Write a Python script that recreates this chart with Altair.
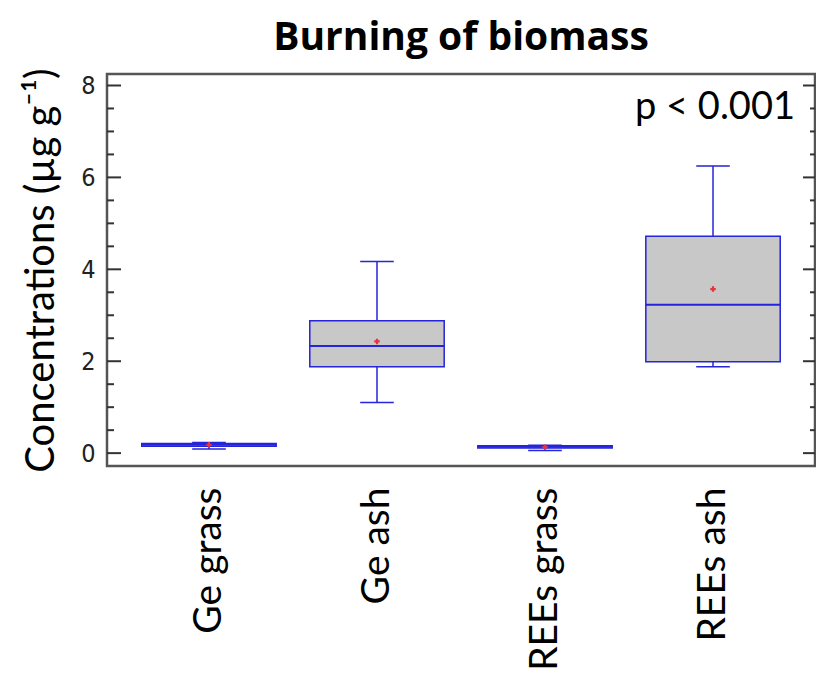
import altair as alt
import pandas as pd

categories = ["Ge grass", "Ge ash", "REEs grass", "REEs ash"]
mins = [0.09, 1.10, 0.06, 1.88]
q1s = [0.15, 1.88, 0.11, 1.99]
medians = [0.18, 2.33, 0.14, 3.23]
q3s = [0.21, 2.88, 0.16, 4.72]
maxs = [0.23, 4.17, 0.17, 6.25]
means = [0.18, 2.43, 0.13, 3.57]

major_ticks = [0, 2, 4, 6, 8]
minor_ticks = [0.5, 1, 1.5, 2.5, 3, 3.5, 4.5, 5, 5.5, 6.5, 7, 7.5]

df = pd.DataFrame({"cat": categories, "min": mins, "q1": q1s, "median": medians,
                   "q3": q3s, "max": maxs, "mean": means})
maj = pd.DataFrame({"v": major_ticks})
mnr = pd.DataFrame({"v": minor_ticks})

BLUE = "#2424d8"
W, H = 708, 392
FONT = "Lato"
YTITLE = "Concentrations (µg g⁻¹)"

yscale = alt.Scale(domain=[-0.28, 8.25], nice=False, zero=False)
xscale = alt.Scale(paddingInner=0, paddingOuter=0.107)

yaxis = alt.Axis(values=major_ticks, ticks=False, tickSize=0, domain=False, grid=False,
                 labelFont="Liberation Sans Narrow, DejaVu Sans Condensed, Liberation Sans",
                 labelFontSize=25, labelColor="#222", labelPadding=12, titleFont=FONT,
                 titleFontSize=40, titleFontWeight="normal", titleColor="black",
                 titlePadding=19)
xaxis = alt.Axis(labelAngle=-90, labelAlign="right", labelBaseline="middle",
                 ticks=False, tickSize=0, domain=False, grid=False, labelFont=FONT,
                 labelFontSize=39, labelColor="black", labelPadding=21, labelLimit=400)


def X():
    return alt.X("cat:N", sort=categories, scale=xscale, axis=xaxis, title=None)


def Y(field):
    return alt.Y(field, scale=yscale, axis=yaxis, title=YTITLE)


base = alt.Chart(df)

whisk = base.mark_rule(color=BLUE, strokeWidth=1.5).encode(
    x=X(), y=Y("min:Q"), y2="max:Q")
box = base.mark_bar(fill="#c8c8c8", stroke=BLUE, strokeWidth=1.5,
                    width=alt.RelativeBandSize(0.8)).encode(
    x=X(), y=Y("q1:Q"), y2="q3:Q")
med = base.mark_bar(stroke=BLUE, strokeWidth=2, fill=BLUE,
                    width=alt.RelativeBandSize(0.8)).encode(
    x=X(), y=Y("median:Q"), y2="median:Q")
capmin = base.mark_bar(stroke=BLUE, strokeWidth=1.5, fill=BLUE,
                       width=alt.RelativeBandSize(0.2)).encode(
    x=X(), y=Y("min:Q"), y2="min:Q")
capmax = base.mark_bar(stroke=BLUE, strokeWidth=1.5, fill=BLUE,
                       width=alt.RelativeBandSize(0.2)).encode(
    x=X(), y=Y("max:Q"), y2="max:Q")
mean = base.mark_point(shape="cross", filled=True, color="#e8323c", size=30, opacity=1).encode(
    x=X(), y=Y("mean:Q"))

TC = "#333"
lmaj = alt.Chart(maj).mark_rule(color=TC, strokeWidth=2).encode(
    x=alt.value(0), x2=alt.value(14), y=Y("v:Q"))
lmin = alt.Chart(mnr).mark_rule(color=TC, strokeWidth=2).encode(
    x=alt.value(0), x2=alt.value(7), y=Y("v:Q"))
rmaj = alt.Chart(maj).mark_rule(color=TC, strokeWidth=2).encode(
    x=alt.value(W - 12), x2=alt.value(W), y=Y("v:Q"))
rmin = alt.Chart(mnr).mark_rule(color=TC, strokeWidth=2).encode(
    x=alt.value(W - 5), x2=alt.value(W), y=Y("v:Q"))

ptext = alt.Chart(pd.DataFrame({"t": ["p < 0.001"]})).mark_text(
    font=FONT, fontSize=38, align="right", baseline="middle", color="black"
).encode(x=alt.value(W - 20), y=alt.value(34), text="t:N")

chart = alt.layer(whisk, box, med, capmin, capmax, mean, lmaj, lmin, rmaj, rmin, ptext).properties(
    width=W, height=H,
    title=alt.TitleParams("Burning of biomass", font="Open Sans", fontSize=39, fontWeight="bold",
                          anchor="middle", baseline="alphabetic", offset=-21, color="black"),
    autosize=alt.AutoSizeParams(type="none"),
    padding={"left": 107, "top": 74, "right": 1, "bottom": 207},
).configure(background="white").configure_view(stroke="#555", strokeWidth=2.5)

chart.save("out.html", embed_options={"renderer": "svg", "actions": False})
